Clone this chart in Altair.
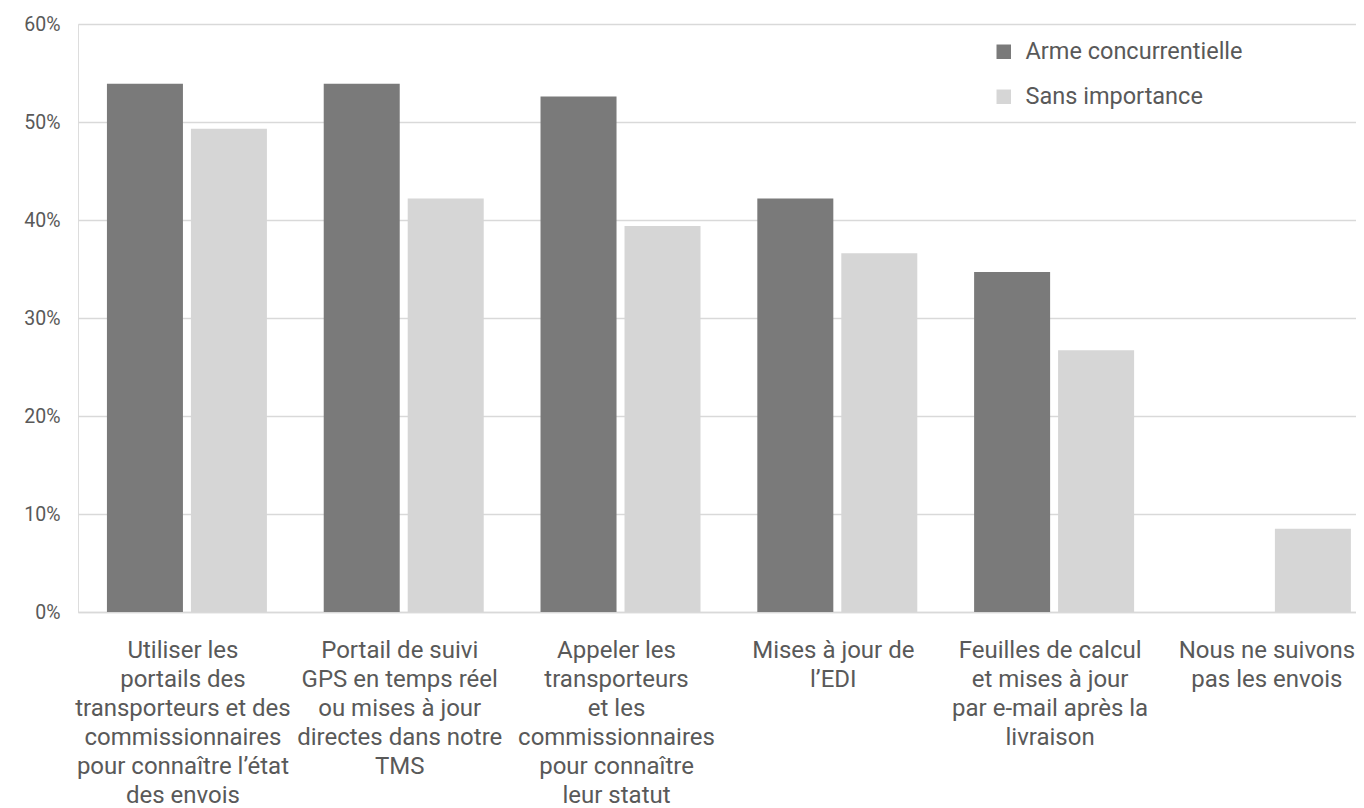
import altair as alt
import pandas as pd

categories = [
    "Utiliser les\nportails des\ntransporteurs et des\ncommissionnaires\npour connaître l’état\ndes envois",
    "Portail de suivi\nGPS en temps réel\nou mises à jour\ndirectes dans notre\nTMS",
    "Appeler les\ntransporteurs\net les\ncommissionnaires\npour connaître\nleur statut",
    "Mises à jour de\nl’EDI",
    "Feuilles de calcul\net mises à jour\npar e-mail après la\nlivraison",
    "Nous ne suivons\npas les envois",
]
series = ["Arme concurrentielle", "Sans importance"]
arme = [53.9, 53.9, 52.6, 42.2, 34.7, 0.0]
sans = [49.3, 42.2, 39.4, 36.6, 26.7, 8.5]
colors = ["#7a7a7a", "#d6d6d6"]

rows = []
for c, a, s in zip(categories, arme, sans):
    rows.append({"cat": c, "serie": series[0], "val": a})
    rows.append({"cat": c, "serie": series[1], "val": s})
df = pd.DataFrame(rows)

FONT = "Roboto"
TXT = "#595959"

chart = alt.Chart(df).mark_bar().encode(
    x=alt.X("cat:N", sort=categories, title=None,
            scale=alt.Scale(paddingInner=0.262, paddingOuter=0.0785, align=0.85),
            axis=alt.Axis(labelAngle=0, labelExpr="split(datum.label, '\\n')",
                          labelFontSize=24, labelLineHeight=29, labelColor=TXT,
                          labelFont=FONT, labelPadding=26, labelLimit=400,
                          labelOffset=-4,
                          ticks=False, domain=True, domainColor="#d9d9d9",
                          domainWidth=1.5, labelBaseline="top")),
    xOffset=alt.XOffset("serie:N", sort=series,
                        scale=alt.Scale(paddingInner=0.095, paddingOuter=0)),
    y=alt.Y("val:Q", title=None,
            scale=alt.Scale(domain=[0, 60], nice=False),
            axis=alt.Axis(values=[0, 10, 20, 30, 40, 50, 60],
                          labelExpr="datum.value + '%'",
                          labelFontSize=19.5, labelColor=TXT, labelFont=FONT,
                          labelPadding=18, ticks=False, domain=False,
                          gridColor="#d9d9d9", gridWidth=1.5)),
    color=alt.Color("serie:N", sort=series,
                    scale=alt.Scale(domain=series, range=colors),
                    legend=alt.Legend(title=None, orient="none",
                                      legendX=914, legendY=16,
                                      symbolType="square", symbolSize=210,
                                      symbolStrokeWidth=0,
                                      labelFontSize=23.5, labelFont=FONT,
                                      labelColor=TXT, labelOffset=10,
                                      labelLimit=0, rowPadding=20)),
).properties(
    width=1278, height=588,
    autosize=alt.AutoSizeParams(type="none"),
    padding={"left": 70, "top": 16, "right": 0, "bottom": 196},
).configure_view(stroke=None).configure(font=FONT)

chart.save("out.html", embed_options={"renderer": "svg", "actions": False})
